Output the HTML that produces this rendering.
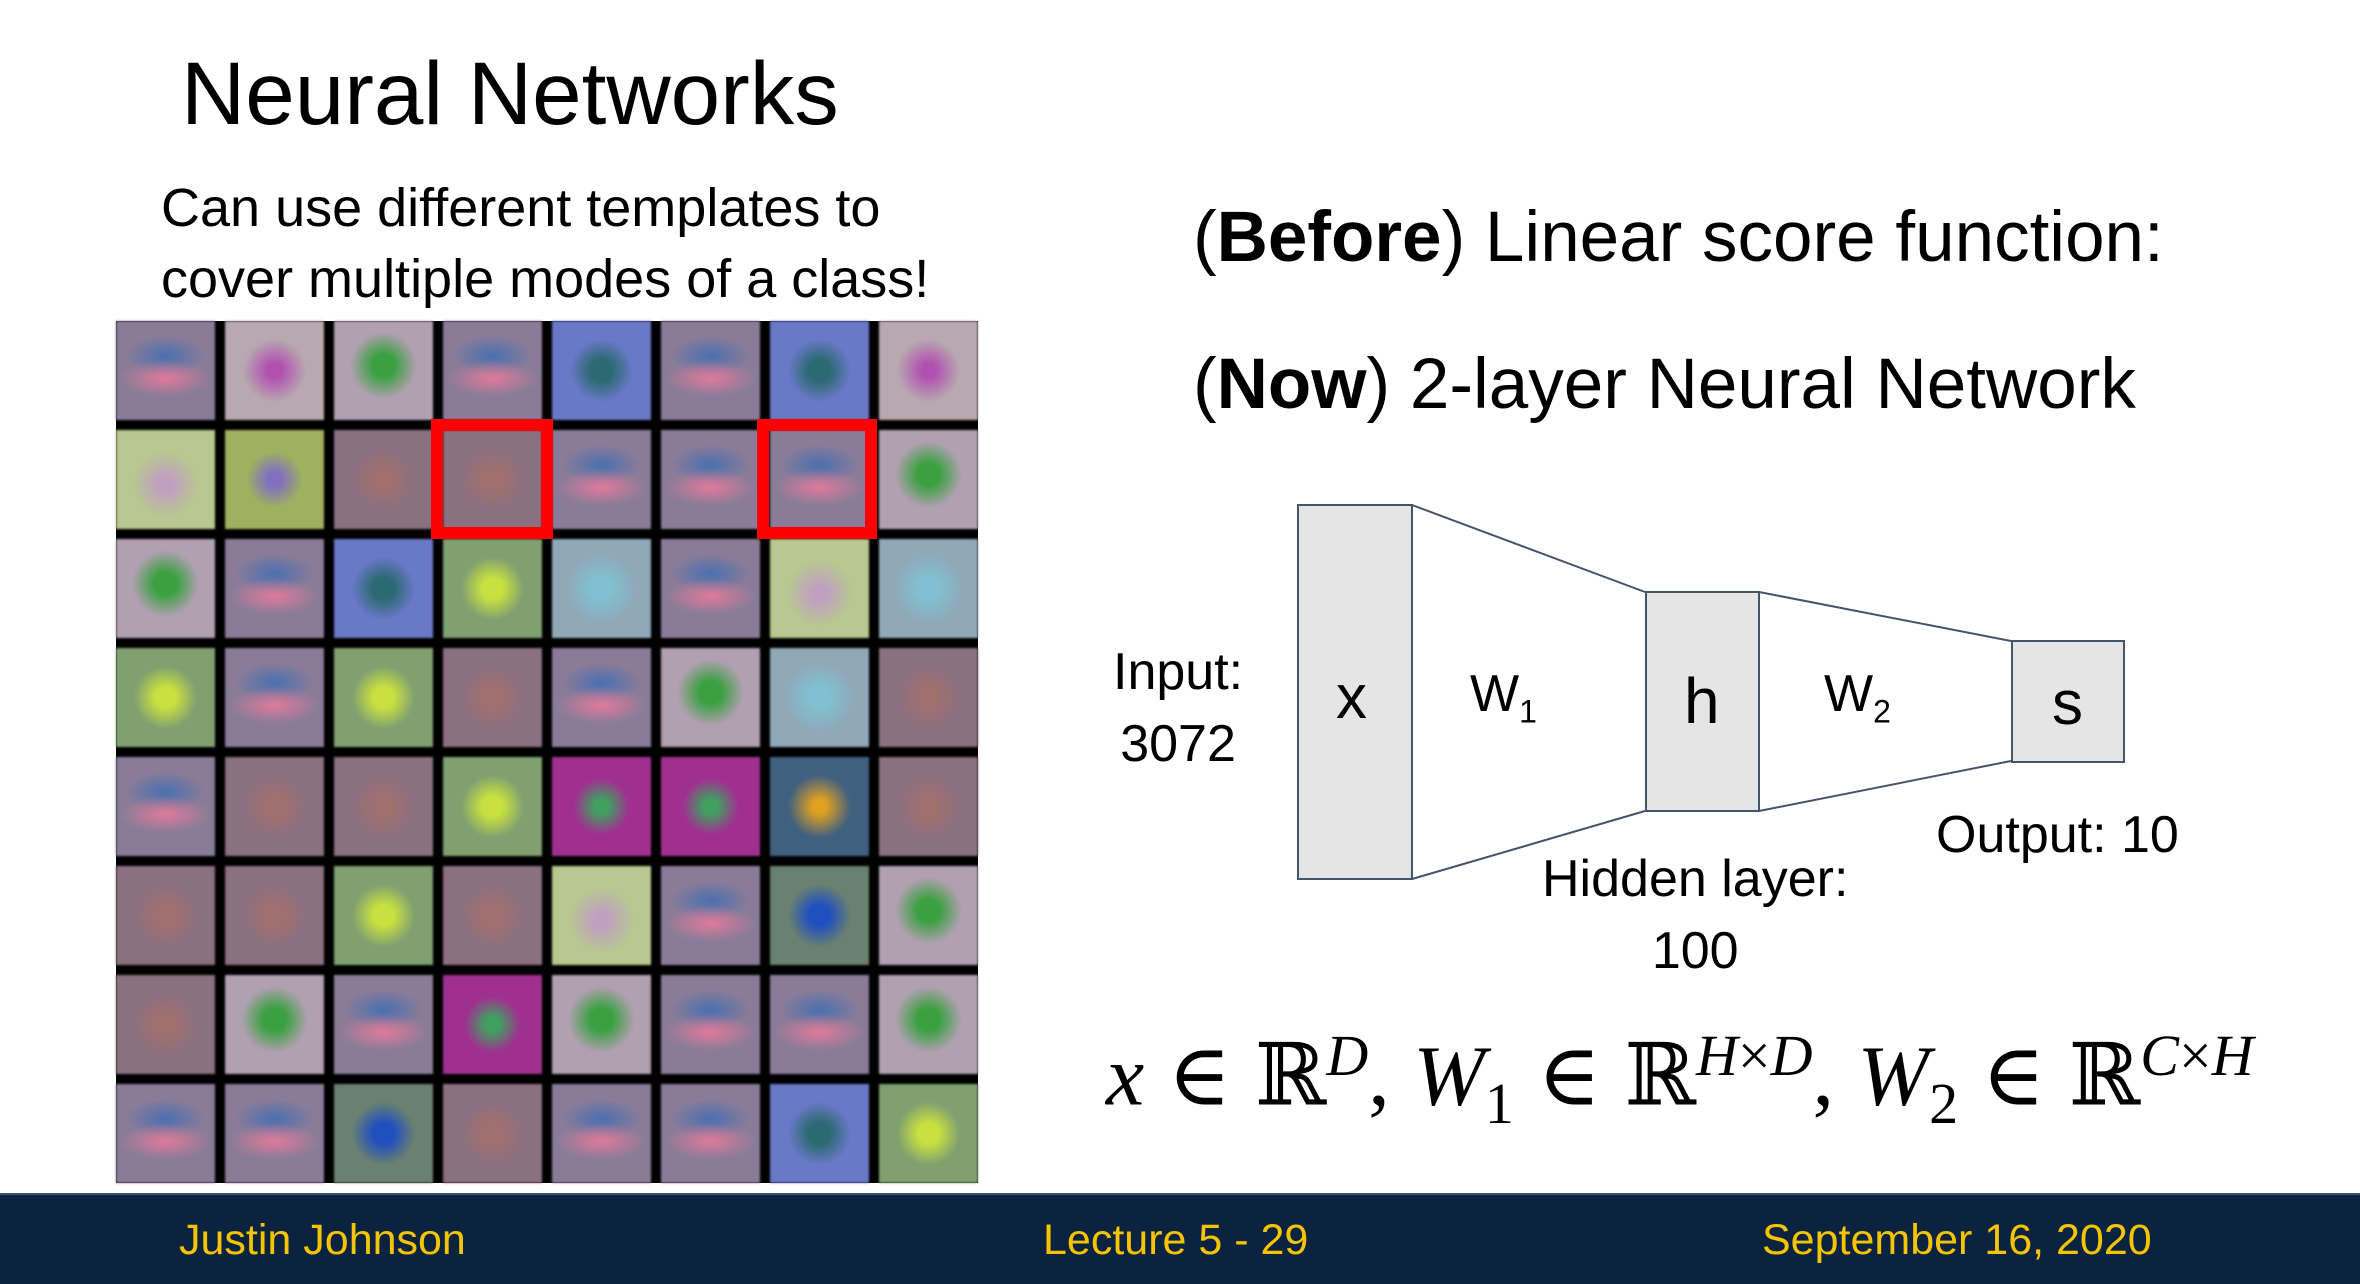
<!DOCTYPE html>
<html><head><meta charset="utf-8"><style>
body{margin:0;width:2360px;height:1284px;position:relative;background:#fff;overflow:hidden;font-family:"Liberation Sans",sans-serif;color:#000}
.t{position:absolute;white-space:nowrap}
#grid{position:absolute;left:116px;top:321px;width:862px;height:862px;background:#000;display:grid;grid-template-columns:repeat(8,99px);grid-template-rows:repeat(8,99px);gap:10px}
#grid div{filter:blur(1px)}
.a{background:radial-gradient(ellipse 45% 18% at 50% 58%,#e07a9a,transparent),radial-gradient(ellipse 40% 20% at 50% 35%,#4a6fb0,transparent),#8a7c98}
.b{background:radial-gradient(circle at 50% 50%,#b050b0 10%,transparent 45%),#b8a8b0}
.c{background:radial-gradient(circle at 50% 45%,#3aa040 15%,transparent 45%),#b0a0b0}
.d{background:radial-gradient(circle at 50% 50%,#2a6a70 15%,transparent 45%),#6a78c8}
.e{background:radial-gradient(circle at 50% 55%,#c0a0c0 10%,transparent 45%),#b8c890}
.f{background:radial-gradient(circle at 50% 50%,#8070c0 10%,transparent 40%),#a0b060}
.g{background:radial-gradient(circle at 50% 50%,#c8e040 15%,transparent 45%),#80a070}
.h{background:radial-gradient(circle at 50% 50%,#80c0d0 15%,transparent 50%),#90a8b8}
.i{background:radial-gradient(circle at 50% 50%,#2050c0 15%,transparent 45%),#6a8070}
.j{background:radial-gradient(circle at 50% 50%,#e0a020 10%,transparent 45%),#406080}
.k{background:radial-gradient(circle at 50% 50%,#40a060 10%,transparent 40%),#a03090}
.l{background:radial-gradient(circle at 50% 50%,#a07070 15%,transparent 45%),#8a7080}
.r{position:absolute;border:12px solid #f00;box-sizing:border-box}
#foot{position:absolute;left:0;top:1193px;width:2360px;height:91px;background:#0c2340;border-top:2px solid #3a5070;box-sizing:border-box}
.y{position:absolute;color:#f5c400;font-size:43px;top:21px}
.box{position:absolute;background:#e5e5e5;border:2px solid #44546a;box-sizing:border-box}
</style></head><body>
<div class="t" style="left:181px;top:42px;font-size:89px">Neural Networks</div>
<div class="t" style="left:161px;top:173px;font-size:54px;line-height:71px">Can use different templates to<br>cover multiple modes of a class!</div>
<div id="grid">
<div class="a"></div><div class="b"></div><div class="c"></div><div class="a"></div><div class="d"></div><div class="a"></div><div class="d"></div><div class="b"></div>
<div class="e"></div><div class="f"></div><div class="l"></div><div class="l"></div><div class="a"></div><div class="a"></div><div class="a"></div><div class="c"></div>
<div class="c"></div><div class="a"></div><div class="d"></div><div class="g"></div><div class="h"></div><div class="a"></div><div class="e"></div><div class="h"></div>
<div class="g"></div><div class="a"></div><div class="g"></div><div class="l"></div><div class="a"></div><div class="c"></div><div class="h"></div><div class="l"></div>
<div class="a"></div><div class="l"></div><div class="l"></div><div class="g"></div><div class="k"></div><div class="k"></div><div class="j"></div><div class="l"></div>
<div class="l"></div><div class="l"></div><div class="g"></div><div class="l"></div><div class="e"></div><div class="a"></div><div class="i"></div><div class="c"></div>
<div class="l"></div><div class="c"></div><div class="a"></div><div class="k"></div><div class="c"></div><div class="a"></div><div class="a"></div><div class="c"></div>
<div class="a"></div><div class="a"></div><div class="i"></div><div class="l"></div><div class="a"></div><div class="a"></div><div class="d"></div><div class="g"></div>
</div>
<div class="r" style="left:431px;top:419px;width:122px;height:120px"></div>
<div class="r" style="left:757px;top:419px;width:120px;height:120px"></div>

<div class="t" style="left:1193px;top:197px;font-size:71px">(<b>Before</b>) Linear score function:</div>
<div class="t" style="left:1193px;top:344px;font-size:71px">(<b>Now</b>) 2-layer Neural Network</div>

<svg style="position:absolute;left:0;top:0" width="2360" height="1284">
<g stroke="#44546a" stroke-width="2" fill="none">
<line x1="1412" y1="505" x2="1645" y2="592"/>
<line x1="1412" y1="879" x2="1645" y2="811"/>
<line x1="1759" y1="592" x2="2011" y2="641"/>
<line x1="1759" y1="811" x2="2011" y2="761"/>
</g></svg>
<div class="box" style="left:1297px;top:504px;width:116px;height:376px"></div>
<div class="box" style="left:1645px;top:591px;width:115px;height:221px"></div>
<div class="box" style="left:2011px;top:640px;width:114px;height:123px"></div>
<div class="t" style="left:1336px;top:662px;font-size:62px">x</div>
<div class="t" style="left:1470px;top:664px;font-size:52px">W<sub style="font-size:32px">1</sub></div>
<div class="t" style="left:1684px;top:664px;font-size:64px">h</div>
<div class="t" style="left:1824px;top:664px;font-size:52px">W<sub style="font-size:32px">2</sub></div>
<div class="t" style="left:2052px;top:668px;font-size:62px">s</div>
<div class="t" style="left:1113px;top:636px;font-size:52px;line-height:72px;text-align:center">Input:<br>3072</div>
<div class="t" style="left:1542px;top:843px;font-size:52px;line-height:72px;text-align:center">Hidden layer:<br>100</div>
<div class="t" style="left:1936px;top:805px;font-size:52px">Output: 10</div>

<div class="t" style="left:1106px;top:1022px;font-size:86px;word-spacing:2px;font-family:'Liberation Serif','DejaVu Serif',serif"><i>x</i> ∈ ℝ<sup style="font-size:58px"><i>D</i></sup>, <i>W</i><sub style="font-size:58px">1</sub> ∈ ℝ<sup style="font-size:58px"><i>H</i>×<i>D</i></sup>, <i>W</i><sub style="font-size:58px">2</sub> ∈ ℝ<sup style="font-size:58px"><i>C</i>×<i>H</i></sup></div>

<div id="foot">
<div class="y" style="left:179px">Justin Johnson</div>
<div class="y" style="left:1043px">Lecture 5 - 29</div>
<div class="y" style="left:1762px">September 16, 2020</div>
</div>
</body></html>
